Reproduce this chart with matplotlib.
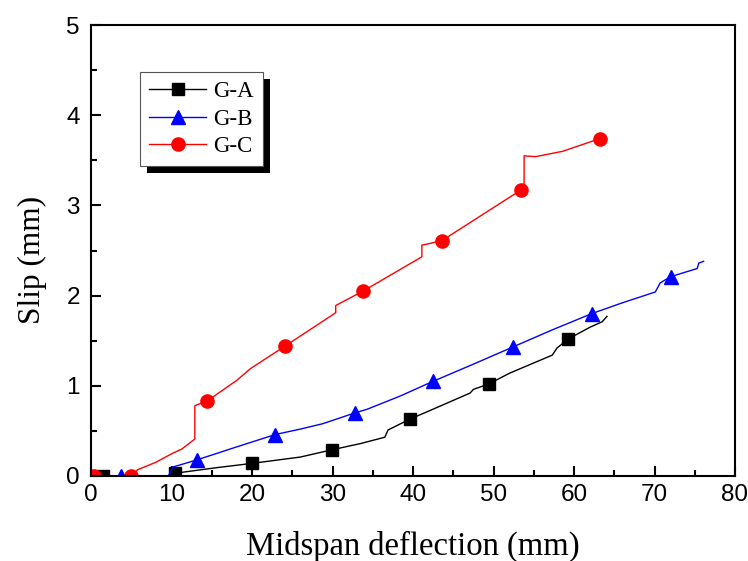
import matplotlib
matplotlib.use('Agg')
import matplotlib.pyplot as plt
from matplotlib.lines import Line2D
from matplotlib.patches import Rectangle
from matplotlib.ticker import MultipleLocator

# (midspan deflection mm, slip mm)
ga_x = [0, 1.5, 5.0, 9.8, 10.4, 15.4, 20.0, 26.0, 29.9, 33.5, 36.5, 36.9, 39.6, 41.7,
        47.1, 47.5, 49.4, 52.0, 57.3, 57.9, 59.3, 62.0, 63.5, 64.1]
ga_y = [0, 0, 0, 0, 0.03, 0.09, 0.14, 0.21, 0.29, 0.36, 0.43, 0.51, 0.63, 0.71,
        0.92, 0.96, 1.02, 1.14, 1.34, 1.42, 1.52, 1.65, 1.71, 1.77]
ga_mx = [1.5, 10.4, 20.0, 29.9, 39.6, 49.4, 59.3]
ga_my = [0, 0.03, 0.14, 0.29, 0.63, 1.02, 1.52]

gb_x = [0, 3.7, 9.6, 10.2, 13.2, 18.0, 22.9, 26.0, 28.8, 32.8, 34.3, 38.5, 42.5, 47.5,
        52.4, 57.3, 62.2, 66.0, 70.1, 70.7, 72.0, 75.3, 75.5, 76.1]
gb_y = [0, 0, 0, 0.10, 0.18, 0.32, 0.46, 0.52, 0.58, 0.70, 0.74, 0.89, 1.05, 1.24,
        1.43, 1.62, 1.80, 1.92, 2.04, 2.14, 2.21, 2.30, 2.36, 2.38]
gb_mx = [0, 3.7, 13.2, 22.9, 32.8, 42.5, 52.4, 62.2, 72.0]
gb_my = [0, 0, 0.18, 0.46, 0.70, 1.05, 1.43, 1.80, 2.21]

gc_x = [0.4, 5.0, 5.8, 8.0, 10.1, 11.3, 12.9, 12.9, 13.5, 14.4, 18.1, 19.8, 24.1, 30.4,
        30.4, 33.8, 41.1, 41.1, 41.7, 43.6, 53.4, 53.8, 53.8, 55.2, 58.6, 63.2]
gc_y = [0, 0, 0.07, 0.15, 0.25, 0.30, 0.41, 0.78, 0.80, 0.83, 1.06, 1.19, 1.44, 1.81,
        1.89, 2.05, 2.43, 2.56, 2.57, 2.61, 3.17, 3.20, 3.55, 3.54, 3.60, 3.74]
gc_mx = [0.4, 5.0, 14.4, 24.1, 33.8, 43.6, 53.4, 63.2]
gc_my = [0, 0, 0.83, 1.44, 2.05, 2.61, 3.17, 3.74]

series = [
    ('G-A', ga_x, ga_y, ga_mx, ga_my, 'black', 's', 8.5),
    ('G-B', gb_x, gb_y, gb_mx, gb_my, 'blue', '^', 10),
    ('G-C', gc_x, gc_y, gc_mx, gc_my, 'red', 'o', 9.5),
]

serif = ['Liberation Serif', 'DejaVu Serif']
sans = ['Liberation Sans', 'DejaVu Sans']

fig = plt.figure(figsize=(7.48, 5.61), dpi=100)
ax = fig.add_axes([91/748, 85/561, 644/748, 451/561])

handles = []
for name, x, y, mx, my, col, mk, ms in series:
    ax.plot(x, y, color=col, lw=1.0)
    ax.plot(mx, my, ls='none', marker=mk, ms=ms, color=col)
    handles.append(Line2D([], [], color=col, lw=1.0, marker=mk, ms=ms))

ax.set_xlim(0, 80)
ax.set_ylim(0, 5)
ax.xaxis.set_major_locator(MultipleLocator(10))
ax.xaxis.set_minor_locator(MultipleLocator(5))
ax.yaxis.set_major_locator(MultipleLocator(1))
ax.yaxis.set_minor_locator(MultipleLocator(0.5))
ax.tick_params(which='both', direction='in', width=1.5, top=False, right=False)
ax.tick_params(which='major', length=7, labelsize=17.5)
ax.tick_params(axis='x', which='major', pad=6)
ax.tick_params(axis='y', which='major', pad=8)
ax.tick_params(which='minor', length=4.5)
for lab in ax.get_xticklabels() + ax.get_yticklabels():
    lab.set_family(sans)
for sp in ax.spines.values():
    sp.set_linewidth(1.5)
    sp.set_zorder(3)

ax.set_xlabel('Midspan deflection (mm)', family=serif, fontsize=23.5)
ax.set_ylabel('Slip (mm)', family=serif, fontsize=22.5)
ax.xaxis.set_label_coords(0.5, -0.121)
ax.yaxis.set_label_coords(-0.068, 0.478)

leg = ax.legend(handles, ['G-A', 'G-B', 'G-C'], loc='upper left',
                bbox_to_anchor=(0.076, 0.896), borderaxespad=0,
                prop={'family': serif, 'size': 16.5},
                handlelength=2.5, handletextpad=0.3, labelspacing=0.28,
                borderpad=0.4, fancybox=False, framealpha=1, edgecolor='#555555')
leg.get_frame().set_linewidth(0.8)
leg.set_zorder(6)

# thick black drop shadow behind the legend box (pixel coords)
fig.canvas.draw()
bb = leg.get_window_extent()
off = 7
shadow = Rectangle((bb.x0 + off, bb.y0 - off), bb.width, bb.height,
                   transform=None, facecolor='black', edgecolor='none', zorder=5.5)
ax.add_patch(shadow)

fig.savefig('out.png', dpi=100)
